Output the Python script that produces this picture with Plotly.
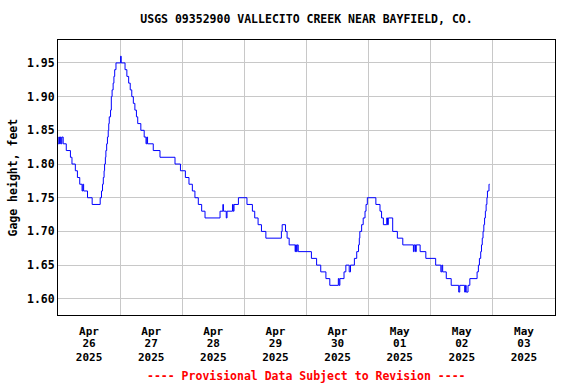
import pandas as pd
import plotly.graph_objects as go

# Gage height readings (hours since 2025-04-26 00:00, feet)
hours_since_start = [
    0.0, 0.3, 0.6, 0.9, 1.2, 1.5, 2.0, 3.2, 4.8, 5.4, 6.7, 7.5, 8.4, 9.3, 9.6, 9.9,
    11.4, 13.2, 16.3, 16.8, 17.2, 17.5, 17.8, 18.0, 18.3, 18.5, 18.8, 19.1, 19.4,
    19.6, 19.8, 20.3, 20.6, 20.9, 21.3, 21.6, 21.9, 22.4, 24.2, 24.4, 25.9, 26.6,
    27.3, 27.9, 28.5, 29.1, 29.7, 30.3, 30.8, 32.0, 33.3, 34.0, 34.3, 34.6, 36.8,
    39.4, 45.2, 47.3, 49.2, 50.6, 51.9, 52.9, 54.2, 55.5, 56.8, 62.6, 63.7, 63.9,
    65.0, 65.3, 67.4, 67.7, 68.0, 69.7, 73.0, 75.1, 76.0, 77.3, 78.6, 80.3, 86.3,
    86.6, 87.9, 88.5, 89.3, 91.6, 91.8, 92.1, 92.4, 92.8, 97.9, 99.9, 101.5, 103.5,
    105.0, 108.3, 108.6, 108.9, 110.5, 111.2, 112.5, 113.0, 114.5, 115.4, 116.1,
    116.4, 116.6, 117.3, 117.9, 118.6, 119.0, 119.5, 122.8, 124.4, 125.0, 125.7,
    127.0, 127.3, 127.6, 129.3, 131.1, 133.2, 137.3, 137.6, 138.1, 138.4, 139.9,
    142.1, 145.9, 147.9, 148.3, 148.6, 150.0, 151.9, 154.8, 155.2, 157.1, 157.4,
    157.7, 158.4, 159.1, 161.9, 162.4, 162.8, 163.3, 163.6, 163.9, 164.2, 164.5,
    164.8, 165.1, 165.4, 165.7, 165.9, 166.2, 166.5, 166.75,
]
gage_height_ft = [
    1.83, 1.84, 1.83, 1.84, 1.83, 1.84, 1.83, 1.82, 1.81, 1.80, 1.79, 1.78, 1.77, 1.76, 1.77, 1.76,
    1.75, 1.74, 1.75, 1.76, 1.77, 1.78, 1.79, 1.80, 1.81, 1.82, 1.83, 1.84, 1.85,
    1.86, 1.87, 1.88, 1.90, 1.91, 1.92, 1.93, 1.94, 1.95, 1.96, 1.95, 1.94, 1.93,
    1.92, 1.91, 1.90, 1.89, 1.88, 1.87, 1.86, 1.85, 1.84, 1.83, 1.84, 1.83, 1.82,
    1.81, 1.80, 1.79, 1.78, 1.77, 1.76, 1.75, 1.74, 1.73, 1.72, 1.73, 1.74, 1.73,
    1.72, 1.73, 1.74, 1.73, 1.74, 1.75, 1.74, 1.73, 1.72, 1.71, 1.70, 1.69, 1.70,
    1.71, 1.70, 1.69, 1.68, 1.67, 1.68, 1.67, 1.68, 1.67, 1.66, 1.65, 1.64, 1.63,
    1.62, 1.63, 1.62, 1.63, 1.64, 1.65, 1.64, 1.65, 1.66, 1.67, 1.68,
    1.69, 1.70, 1.71, 1.72, 1.73, 1.74, 1.75, 1.74, 1.73, 1.72, 1.71,
    1.72, 1.71, 1.72, 1.70, 1.69, 1.68, 1.67, 1.68, 1.67, 1.68, 1.67,
    1.66, 1.65, 1.64, 1.65, 1.64, 1.63, 1.62, 1.61, 1.62, 1.61, 1.62,
    1.61, 1.62, 1.63, 1.64, 1.65, 1.66, 1.67, 1.68, 1.69, 1.70, 1.71,
    1.72, 1.73, 1.74, 1.75, 1.76, 1.76, 1.77, 1.77,
]

month_labels = ["Apr", "Apr", "Apr", "Apr", "Apr", "May", "May", "May"]
day_labels = ["26", "27", "28", "29", "30", "01", "02", "03"]
year_labels = ["2025"] * 8
y_ticks = [1.60, 1.65, 1.70, 1.75, 1.80, 1.85, 1.90, 1.95]

start = pd.Timestamp("2025-04-26 00:00")
times = [start + pd.Timedelta(hours=h) for h in hours_since_start]
day_noons = [start + pd.Timedelta(days=i, hours=12) for i in range(len(day_labels))]
day_midnights = [start + pd.Timedelta(days=i) for i in range(len(day_labels) + 1)]
x_range = [day_midnights[0], day_midnights[-1]]

FONT = "DejaVu Sans Mono"
FS = 11.5
XFS = 11

fig = go.Figure()
fig.add_trace(go.Scatter(x=times, y=gage_height_ft, mode="lines", line_shape="hv",
                         line=dict(color="#0000ff", width=1), showlegend=False,
                         hoverinfo="x+y"))
# invisible carriers for the extra label axes
for ax in ("x2", "x3"):
    fig.add_trace(go.Scatter(x=x_range, y=[None, None], mode="lines", xaxis=ax,
                             showlegend=False, hoverinfo="skip"))

fig.update_layout(
    width=576, height=384,
    margin=dict(l=58, r=21, t=40, b=69),
    paper_bgcolor="white", plot_bgcolor="white",
    font=dict(family=FONT, size=FS, color="black"),
    title=dict(text="<b>USGS 09352900 VALLECITO CREEK NEAR BAYFIELD, CO.</b>",
               x=(58 + 555) / 2 / 576, xanchor="center", y=1 - 19 / 384, yanchor="middle",
               yref="container", font=dict(family=FONT, size=FS, color="black")),
    xaxis=dict(
        type="date", range=x_range,
        tickmode="array", tickvals=day_noons, ticktext=["<b>%s</b>" % t for t in month_labels],
        showgrid=False, ticks="", tickangle=0, ticklabelstandoff=6,
        tickfont=dict(family=FONT, size=XFS),
        minor=dict(tickmode="array", tickvals=day_midnights, showgrid=True,
                   gridcolor="#c8c8c8", gridwidth=1, ticks=""),
        showline=True, linecolor="black", linewidth=1, mirror=True, zeroline=False,
    ),
    xaxis2=dict(
        type="date", range=x_range, overlaying="x", anchor="y", side="bottom",
        tickmode="array", tickvals=day_noons, ticktext=["<b>%s</b>" % t for t in day_labels],
        showgrid=False, ticks="", tickangle=0, ticklabelstandoff=20,
        tickfont=dict(family=FONT, size=XFS),
        showline=False, zeroline=False,
    ),
    xaxis3=dict(
        type="date", range=x_range, overlaying="x", anchor="y", side="bottom",
        tickmode="array", tickvals=day_noons, ticktext=["<b>%s</b>" % t for t in year_labels],
        showgrid=False, ticks="", tickangle=0, ticklabelstandoff=34,
        tickfont=dict(family=FONT, size=XFS),
        showline=False, zeroline=False,
    ),
    yaxis=dict(
        range=[1.576, 1.984],
        tickmode="array", tickvals=y_ticks, ticktext=["<b>%.2f</b>" % v for v in y_ticks],
        showgrid=True, gridcolor="#c8c8c8", gridwidth=1, ticks="",
        showline=True, linecolor="black", linewidth=1, mirror=True, zeroline=False,
    ),
)
fig.add_annotation(text="<b>Gage height, feet</b>", xref="paper", yref="paper",
                   x=(12 - 58) / 497, y=0.5, xanchor="center", yanchor="middle",
                   textangle=-90, showarrow=False, font=dict(family=FONT, size=FS))
fig.add_annotation(text="<b>---- Provisional Data Subject to Revision ----</b>",
                   xref="paper", yref="paper", x=0.5, y=-(376 - 315) / 275,
                   xanchor="center", yanchor="middle", showarrow=False,
                   font=dict(family=FONT, size=FS, color="red"))

fig.write_html("out.html", config={"displayModeBar": False},
               post_script="document.body.style.margin='0px';")
